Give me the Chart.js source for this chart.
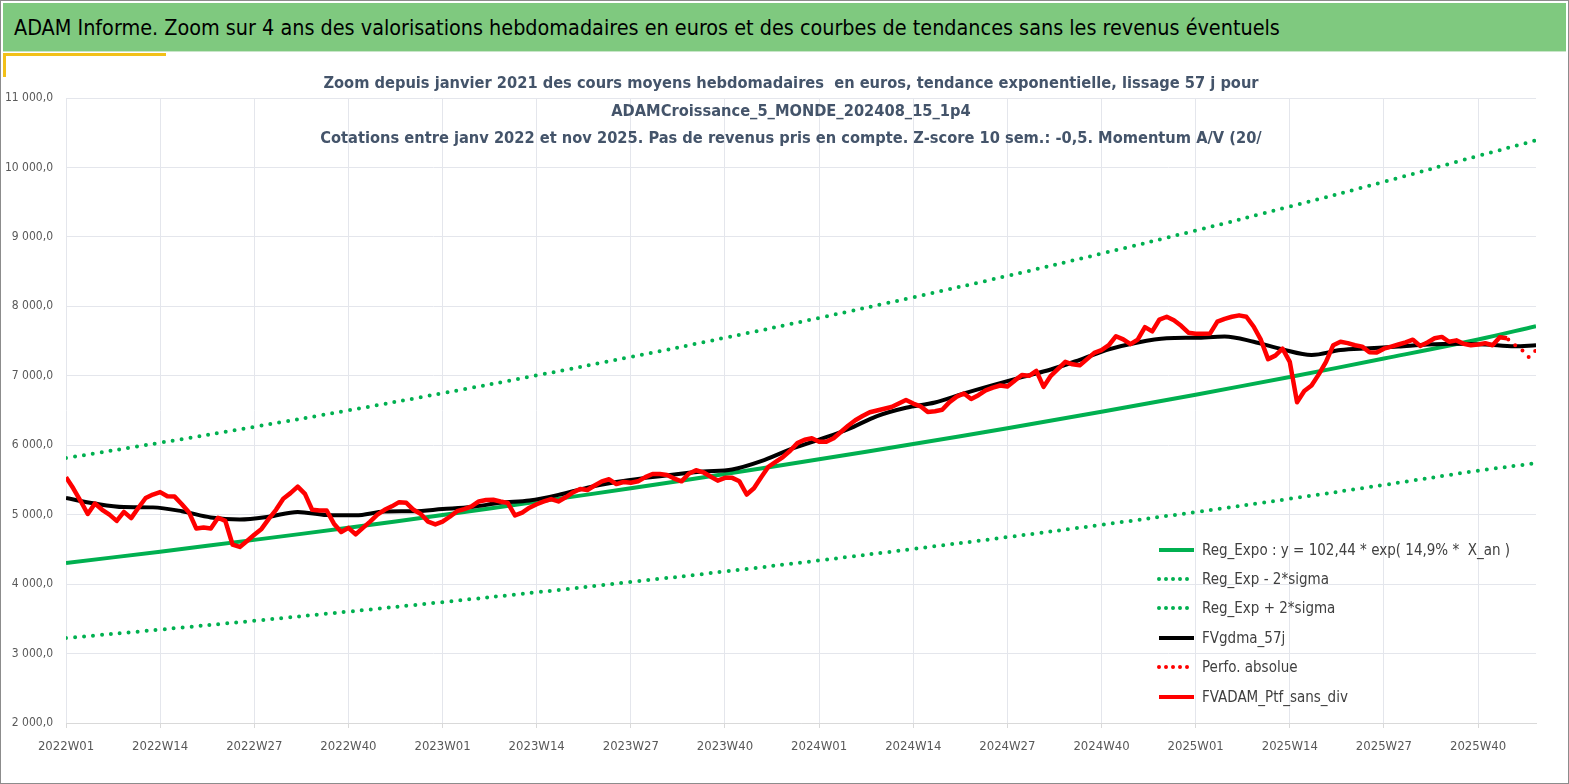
<!DOCTYPE html>
<html lang="fr">
<head>
<meta charset="utf-8">
<title>ADAM Informe</title>
<script src="https://cdn.jsdelivr.net/npm/chart.js@4.4.1/dist/chart.umd.min.js"></script>
<style>
  html, body { margin: 0; padding: 0; background: #fff; }
  #page {
    position: relative; width: 1569px; height: 784px; overflow: hidden;
    box-sizing: border-box; border: 1px solid #8c8c8c; background: #fff;
    font-family: "Liberation Sans Narrow", "DejaVu Sans Condensed", "Liberation Sans", sans-serif;
  }
  #myChart { position: absolute; left: 0; top: 0; }
  #banner {
    position: absolute; left: 2px; top: 2px; width: 1563px; height: 49px;
    background: #7fc97f; border-bottom: 1px solid #c9e6c9;
    color: #000; font-size: 21.4px; line-height: 50px; padding-left: 11px; box-sizing: border-box;
    white-space: nowrap;
  }
  .yellow { position: absolute; background: #f2c018; }
  #subtitle {
    position: absolute; left: 290px; width: 1000px; top: 68px;
    text-align: center; color: #44546a; font-weight: bold; font-size: 16.3px; line-height: 27.5px;
    white-space: nowrap;
  }
  #legend { position: absolute; left: 1155px; top: 534px; color: #404040; font-size: 15px; }
  #legend .item { height: 29.4px; display: flex; align-items: center; white-space: nowrap; }
  #legend svg { margin-right: 4px; }
</style>
</head>
<body>
<div id="page">
  <canvas id="myChart" width="1569" height="784"></canvas>
  <div id="banner">ADAM Informe. Zoom sur 4 ans des valorisations hebdomadaires en euros et des courbes de tendances sans les revenus éventuels</div>
  <div class="yellow" style="left:2px;top:52px;width:163px;height:3px;"></div>
  <div class="yellow" style="left:2px;top:52px;width:3px;height:24px;"></div>
  <div id="subtitle">
    Zoom depuis janvier 2021 des cours moyens hebdomadaires &nbsp;en euros, tendance exponentielle, lissage 57 j pour<br>
    ADAMCroissance_5_MONDE_202408_15_1p4<br>
    Cotations entre janv 2022 et nov 2025. Pas de revenus pris en compte. Z-score 10 sem.: -0,5. Momentum A/V (20/
  </div>
  <div id="legend"></div>
</div>
<script>
// x = week number counted from 2022W01 (0), one label every 13 weeks
var tickLabels = ['2022W01', '2022W14', '2022W27', '2022W40', '2023W01', '2023W14', '2023W27', '2023W40',
    '2024W01', '2024W14', '2024W27', '2024W40', '2025W01', '2025W14', '2025W27', '2025W40'];
var lastWeek = 203;

// FVADAM_Ptf_sans_div, weekly from 2022W01
var ptfValues = [
    5540, 5380, 5200, 5010, 5160, 5070, 5000, 4910, 5040, 4950,
    5100, 5240, 5290, 5325, 5265, 5260, 5150, 5030, 4800, 4815,
    4800, 4955, 4910, 4570, 4535, 4620, 4710, 4795, 4940, 5070,
    5230, 5310, 5405, 5300, 5070, 5060, 5060, 4870, 4750, 4810,
    4715, 4810, 4900, 5000, 5070, 5120, 5180, 5170, 5070, 5010,
    4900, 4860, 4900, 4970, 5050, 5080, 5120, 5190, 5210, 5215,
    5190, 5170, 4990, 5030, 5100, 5150, 5190, 5225, 5190, 5250,
    5320, 5370, 5355, 5420, 5480, 5510, 5440, 5470, 5460, 5480,
    5540, 5585, 5585, 5570, 5520, 5480, 5590, 5640, 5610, 5550,
    5490, 5530, 5530, 5480, 5290, 5380, 5540, 5690, 5760, 5830,
    5920, 6030, 6080, 6100, 6050, 6050, 6100, 6190, 6280, 6360,
    6420, 6475, 6500, 6525, 6550, 6600, 6650, 6600, 6560, 6480,
    6490, 6510, 6620, 6700, 6745, 6665, 6720, 6790, 6830, 6860,
    6845, 6930, 7010, 7000, 7070, 6840, 7000, 7100, 7200, 7165,
    7150, 7240, 7330, 7370, 7440, 7570, 7525, 7455, 7520, 7700,
    7640, 7810, 7850, 7800, 7720, 7620, 7605, 7605, 7610, 7780,
    7820, 7850, 7870, 7850, 7710, 7520, 7240, 7290, 7390, 7200,
    6620, 6780, 6860, 7020, 7200, 7440, 7490, 7470, 7440, 7420,
    7340, 7335, 7390, 7420, 7450, 7480, 7520, 7430, 7480, 7540,
    7560, 7490, 7510, 7460, 7440, 7450, 7470, 7440, 7555, 7540
];

// Perfo. absolue (only visible at the end)
var perfoWeeks = [198, 199, 200, 201, 202, 203];
var perfoValues = [7555, 7540, 7450, 7380, 7270, 7370];

// FVgdma_57j
var gdmaWeeks = [0, 4, 8, 12, 16, 20, 24, 28, 32, 36, 40, 44, 48, 52, 56, 60, 64, 68, 72, 76,
    80, 84, 88, 92, 96, 100, 104, 108, 112, 116, 120, 124, 128, 132, 136, 140, 144, 148, 152, 156,
    160, 164, 168, 172, 176, 180, 184, 188, 192, 196, 200, 203];
var gdmaValues = [5240, 5160, 5110, 5105, 5050, 4960, 4930, 4970, 5040, 4995, 4990, 5045, 5050, 5080, 5110, 5170, 5205, 5285, 5390, 5470,
    5530, 5580, 5620, 5650, 5770, 5940, 6080, 6230, 6420, 6540, 6615, 6745, 6865, 6980, 7090, 7230, 7380, 7480, 7540, 7548,
    7565, 7490, 7380, 7300, 7370, 7395, 7420, 7450, 7462, 7452, 7425, 7440];

// Regression curve and +/- 2 sigma bands
var regWeeks = [0, 13, 26, 39, 52, 65, 78, 91, 104, 117, 130, 143, 156, 169, 182, 195, 203];
var regValues = [4304, 4467, 4637, 4812, 4995, 5184, 5381, 5585, 5797, 6017, 6245, 6482, 6728, 6983, 7248, 7523, 7715];
var regLowValues = [3223, 3345, 3472, 3604, 3741, 3882, 4030, 4182, 4341, 4506, 4677, 4854, 5038, 5229, 5428, 5633, 5740];
var regHighValues = [5815, 6036, 6265, 6502, 6749, 7005, 7271, 7547, 7833, 8130, 8438, 8759, 9091, 9436, 9794, 10165, 10390];

var green = '#00b050';
var tickFont = '"Liberation Sans Narrow", "DejaVu Sans Condensed", sans-serif';

function points(weeks, values) {
    return values.map(function (v, i) { return { x: weeks ? weeks[i] : i, y: v }; });
}

function formatFr(v) {
    var s = Math.round(v).toString().replace(/\B(?=(\d{3})+(?!\d))/g, ' ');
    return s + ',0';
}

var legendItems = [
    { label: 'Reg_Expo : y = 102,44 * exp( 14,9% * \u00a0X_an )', color: green, dotted: false },
    { label: 'Reg_Exp - 2*sigma', color: green, dotted: true },
    { label: 'Reg_Exp + 2*sigma', color: green, dotted: true },
    { label: 'FVgdma_57j', color: '#000000', dotted: false },
    { label: 'Perfo. absolue', color: '#ff0000', dotted: true },
    { label: 'FVADAM_Ptf_sans_div', color: '#ff0000', dotted: false }
];

document.addEventListener('DOMContentLoaded', function () {
    var ctx = document.getElementById('myChart').getContext('2d');

    var dotted = { borderDash: [0, 9], borderCapStyle: 'round', borderWidth: 4 };

    var datasets = [
        { label: 'FVADAM_Ptf_sans_div', data: points(null, ptfValues), borderColor: '#ff0000', borderWidth: 4.5, borderJoinStyle: 'round' },
        Object.assign({ label: 'Perfo. absolue', data: points(perfoWeeks, perfoValues), borderColor: '#ff0000' }, dotted),
        { label: 'FVgdma_57j', data: points(gdmaWeeks, gdmaValues), borderColor: '#000000', borderWidth: 4, tension: 0.4, cubicInterpolationMode: 'monotone' },
        { label: 'Reg_Expo', data: points(regWeeks, regValues), borderColor: green, borderWidth: 4, tension: 0.4 },
        Object.assign({ label: 'Reg_Exp - 2*sigma', data: points(regWeeks, regLowValues), borderColor: green, tension: 0.4 }, dotted),
        Object.assign({ label: 'Reg_Exp + 2*sigma', data: points(regWeeks, regHighValues), borderColor: green, tension: 0.4 }, dotted)
    ];

    var options = {
        responsive: false,
        animation: false,
        layout: { padding: { left: 0, right: 34, top: 97, bottom: 0 } },
        elements: { point: { radius: 0 }, line: { fill: false } },
        plugins: { legend: { display: false }, tooltip: { enabled: false } },
        scales: {
            x: {
                type: 'linear',
                min: 0,
                max: lastWeek,
                afterBuildTicks: function (scale) {
                    scale.ticks = tickLabels.map(function (_, i) { return { value: i * 13 }; });
                },
                afterFit: function (scale) { scale.height = 62; },
                grid: { color: '#e4e6ec', lineWidth: 1, tickLength: 5, tickColor: '#d9d9d9' },
                border: { color: '#d9d9d9' },
                ticks: {
                    autoSkip: false,
                    maxRotation: 0,
                    padding: 11,
                    color: '#595959',
                    font: { family: tickFont, size: 13 },
                    callback: function (value) { return tickLabels[Math.round(value / 13)] || ''; }
                }
            },
            y: {
                min: 2000,
                max: 11000,
                afterFit: function (scale) { scale.width = 65; },
                grid: { color: '#e4e6ec', lineWidth: 1, drawTicks: false },
                border: { display: false },
                ticks: {
                    stepSize: 1000,
                    padding: 13,
                    color: '#595959',
                    font: { family: tickFont, size: 12 },
                    callback: function (value) { return formatFr(value); }
                }
            }
        }
    };

    new Chart(ctx, { type: 'line', data: { datasets: datasets }, options: options });

    // legend inside the plot, bottom right
    var legend = document.getElementById('legend');
    legendItems.forEach(function (item) {
        var row = document.createElement('div');
        row.className = 'item';
        var dash = item.dotted ? ' stroke-dasharray="0 7" stroke-linecap="round"' : '';
        row.innerHTML = '<svg width="42" height="8"><line x1="3" y1="4" x2="38" y2="4" stroke="' + item.color +
            '" stroke-width="4"' + dash + '/></svg><span>' + item.label + '</span>';
        legend.appendChild(row);
    });
});
</script>
</body>
</html>
